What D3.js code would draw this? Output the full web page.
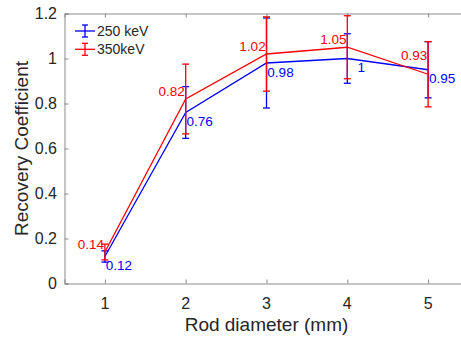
<!DOCTYPE html>
<html><head><meta charset="utf-8">
<script src="https://cdn.jsdelivr.net/npm/d3@7"></script>
<style>html,body{margin:0;padding:0;background:#fff;}svg{display:block;font-family:"Liberation Sans",Arial,sans-serif;}</style>
</head><body>
<script>
const diameters = [1, 2, 3, 4, 5];
const seriesNames = ["250 keV", "350keV"];
const rc250 = [0.12, 0.76, 0.98, 1.00, 0.95];
const err250 = [0.025, 0.115, 0.2, 0.11, 0.125];
const rc350 = [0.14, 0.82, 1.02, 1.05, 0.93];
const err350 = [0.035, 0.155, 0.165, 0.14, 0.145];
const xTicks = [1, 2, 3, 4, 5];
const yTicks = [0, 0.2, 0.4, 0.6, 0.8, 1, 1.2];

const W = 461, H = 338;
const svg = d3.select("body").append("svg").attr("width", W).attr("height", H);
const x = d3.scaleLinear().domain([0.5, 5.5]).range([64.5, 468.5]);
const y = d3.scaleLinear().domain([0, 1.2]).range([283.5, 13.5]);
const axisCol = "#8a8a8a", textCol = "#262626";

// axes box
const g = svg.append("g");
g.append("g").attr("transform", "translate(0,283.5)")
  .call(d3.axisBottom(x).tickValues(xTicks).tickSize(-4).tickPadding(0).tickFormat(""));
g.append("g").attr("transform", "translate(0,13.5)")
  .call(d3.axisTop(x).tickValues(xTicks).tickSize(-4).tickFormat(""));
g.append("g").attr("transform", "translate(64.5,0)")
  .call(d3.axisLeft(y).tickValues(yTicks).tickSize(-4).tickFormat(""));
g.selectAll(".domain").attr("stroke", axisCol);
g.selectAll(".tick line").attr("stroke", axisCol);

// tick labels
svg.selectAll(".xl").data(xTicks).join("text")
  .attr("x", d => x(d)).attr("y", 309).attr("text-anchor", "middle")
  .attr("font-size", 16).attr("fill", textCol).text(d => d);
svg.selectAll(".yl").data(yTicks).join("text")
  .attr("x", 57).attr("y", d => y(d)).attr("dy", "0.35em").attr("text-anchor", "end")
  .attr("font-size", 16).attr("fill", textCol).text(d => d3.format("~g")(d));

svg.append("text").attr("x", 266.5).attr("y", 331).attr("text-anchor", "middle")
  .attr("font-size", 19).attr("fill", textCol).text("Rod diameter (mm)");
svg.append("text").attr("transform", "translate(28,148.5) rotate(-90)").attr("text-anchor", "middle")
  .attr("font-size", 19).attr("fill", textCol).text("Recovery Coefficient");

const series = [
  {name: seriesNames[0], vals: rc250, errs: err250, color: "#0000ff"},
  {name: seriesNames[1], vals: rc350, errs: err350, color: "#ff0000"}
];
const cap = 3.5;
series.forEach(s => {
  const pts = diameters.map((d, i) => ({d, v: s.vals[i], e: s.errs[i]}));
  const sg = svg.append("g");
  sg.append("path").datum(pts)
    .attr("d", d3.line().x(p => x(p.d)).y(p => y(p.v)))
    .attr("fill", "none").attr("stroke", s.color).attr("stroke-width", 1.3);
  pts.forEach(p => {
    sg.append("line").attr("x1", x(p.d)).attr("x2", x(p.d)).attr("y1", y(p.v - p.e)).attr("y2", y(p.v + p.e))
      .attr("stroke", s.color).attr("stroke-width", 1.3);
    [p.v - p.e, p.v + p.e].forEach(v => {
      sg.append("line").attr("x1", x(p.d) - cap).attr("x2", x(p.d) + cap).attr("y1", y(v)).attr("y2", y(v))
        .attr("stroke", s.color).attr("stroke-width", 1.3);
    });
  });
});

// value labels
diameters.forEach((d, i) => {
  svg.append("text").attr("x", x(d) + 14).attr("y", y(rc250[i]) + 9).attr("dy", "0.35em")
    .attr("text-anchor", "middle").attr("font-size", 13.5).attr("fill", "#0000ff").text(String(rc250[i]));
  const dyR = rc350[i] < rc250[i] ? -19 : -8;
  svg.append("text").attr("x", x(d) - 14).attr("y", y(rc350[i]) + dyR).attr("dy", "0.35em")
    .attr("text-anchor", "middle").attr("font-size", 13.5).attr("fill", "#ff0000").text(String(rc350[i]));
});

// legend
series.forEach((s, i) => {
  const ly = 31 + i * 18.3, lx0 = 75, lx1 = 95, lc = 85;
  const lg = svg.append("g");
  lg.append("line").attr("x1", lx0).attr("x2", lx1).attr("y1", ly).attr("y2", ly).attr("stroke", s.color).attr("stroke-width", 1.3);
  lg.append("line").attr("x1", lc).attr("x2", lc).attr("y1", ly - 6).attr("y2", ly + 6).attr("stroke", s.color).attr("stroke-width", 1.3);
  [ly - 6, ly + 6].forEach(yy => lg.append("line").attr("x1", lc - 3).attr("x2", lc + 3).attr("y1", yy).attr("y2", yy).attr("stroke", s.color).attr("stroke-width", 1.3));
  lg.append("text").attr("x", 97).attr("y", ly).attr("dy", "0.35em").attr("font-size", 14).attr("fill", textCol).text(s.name);
});
</script>
</body></html>
